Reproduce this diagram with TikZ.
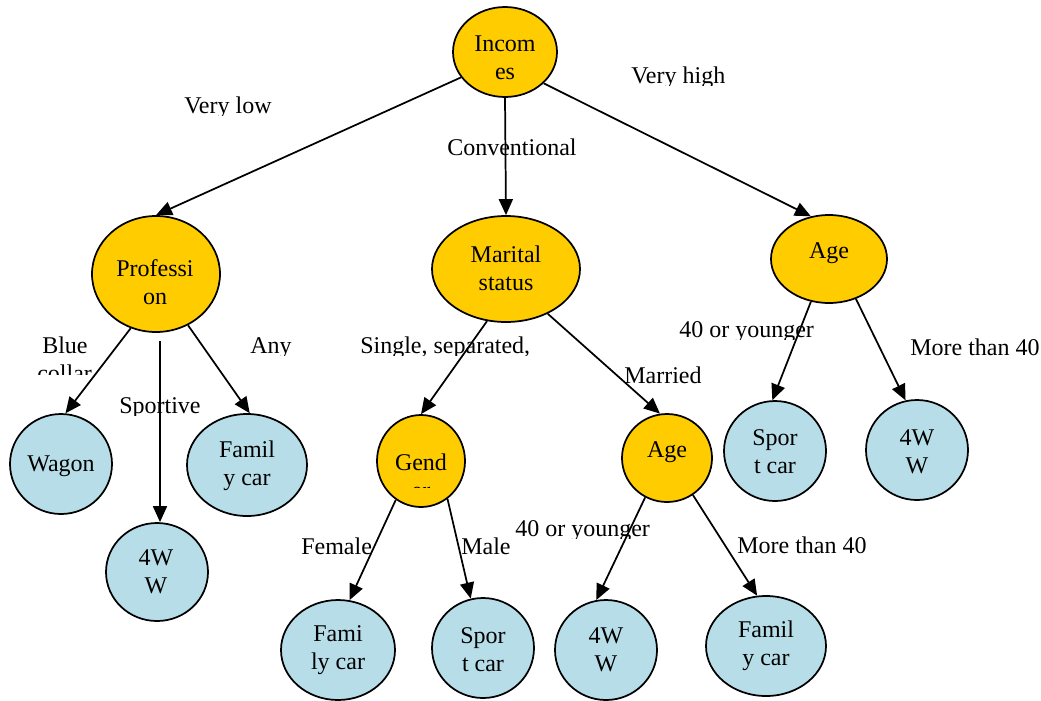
\documentclass[tikz,border=0pt]{standalone}
\usepackage{fontspec}
\setmainfont{Liberation Serif}
\usetikzlibrary{shapes.geometric,arrows.meta}
\definecolor{gold}{HTML}{FFCC00}
\definecolor{leafblue}{HTML}{B7DEE8}
% label whose lower part is cut off at a given height
\newcommand\cliplab[5]{%
  \begin{scope}
    \clip (#2-20,#3-40) rectangle (#2+300,#4);
    \node[lab] (#1) at (#2,#3) {#5};
  \end{scope}}
\begin{document}
\begin{tikzpicture}[x=0.75pt,y=-0.75pt,
  sz/.style 2 args={minimum width=#1*0.75pt,minimum height=#2*0.75pt},
  split/.style={ellipse,draw=black,line width=1.3pt,fill=gold,inner sep=0pt},
  leafnode/.style={ellipse,draw=black,line width=1.3pt,fill=leafblue,inner sep=0pt},
  txt/.style={align=center,inner sep=0pt,font=\fontsize{18}{21}\selectfont},
  lab/.style={anchor=base west,inner sep=0pt,font=\fontsize{18}{21}\selectfont},
  arr/.style={line width=1.3pt,-{Triangle[length=12pt,width=10.5pt]}}]
\fill[white] (0,0) rectangle (1041,700);
\useasboundingbox (0,0) rectangle (1041,700);

% decision nodes
\node[split,sz={104}{90}]  (inc)  at (505,52)  {};
\node[split,sz={128}{116}] (prof) at (156,274) {};
\node[split,sz={148}{106}] (mar)  at (506,269) {};
\node[split,sz={116}{88}]  (ageR) at (829,259) {};
\node[split,sz={88}{92}]   (gend) at (421,461) {};
\node[split,sz={90}{88}]   (ageM) at (667,458) {};

% outcomes
\node[leafnode,sz={102}{100}] (wagon)  at (61,464)  {};
\node[leafnode,sz={102}{98}]  (wwL)    at (157,572) {};
\node[leafnode,sz={120}{102}] (famL)   at (247,465) {};
\node[leafnode,sz={114}{100}] (famB)   at (338,650) {};
\node[leafnode,sz={102}{100}] (sportB) at (483,648) {};
\node[leafnode,sz={102}{100}] (wwB)    at (606,650) {};
\node[leafnode,sz={120}{100}] (famBR)  at (766,646) {};
\node[leafnode,sz={102}{100}] (sportR) at (775,451) {};
\node[leafnode,sz={102}{100}] (wwR)    at (917,450) {};

% node texts
\node[txt] (incT)    at (505,58)  {Incom\\es};
\node[txt] (profT)   at (155,282) {Professi\\on};
\node[txt] (marT)    at (506,268) {Marital\\status};
\node[txt] (ageRT)   at (829,253) {Age};
\node[txt] (ageMT)   at (667,452) {Age};
\begin{scope}
  \clip (380,420) rectangle (465,487);
  \node[txt] (gendT) at (421,476) {Gend\\er};
\end{scope}
\node[txt] (wagonT)  at (61,466)  {Wagon};
\node[txt] (wwLT)    at (156,572) {4W\\W};
\node[txt] (famLT)   at (247,466) {Famil\\y car};
\node[txt] (famBT)   at (338,650) {Fami\\ly car};
\node[txt] (sportBT) at (483,650) {Spor\\t car};
\node[txt] (wwBT)    at (606,650) {4W\\W};
\node[txt] (famBRT)  at (766,646) {Famil\\y car};
\node[txt] (sportRT) at (775,452) {Spor\\t car};
\node[txt] (wwRT)    at (917,452) {4W\\W};

% branch labels
\cliplab{lVlow}{184}{113}{115}{Very low}
\cliplab{lVhigh}{631}{83}{85}{Very high}
\node[lab] (lConv) at (447,155) {Conventional};
\node[lab] (lBlue) at (42,353) {Blue};
\cliplab{lCollar}{37}{381}{374}{collar}
\cliplab{lAny}{250}{353}{355}{Any}
\cliplab{lSport}{119}{413}{415}{Sportive}
\cliplab{lSingle}{360}{353}{355}{Single, separated,}
\node[lab] (lMarried) at (624,383) {Married};
\cliplab{lYoungR}{679}{337}{339}{40 or younger}
\node[lab] (lOldR) at (910,355) {More than 40};
\node[lab] (lFemale) at (301,554) {Female};
\node[lab] (lMale) at (461,554) {Male};
\cliplab{lYoungM}{515}{536}{538}{40 or younger}
\node[lab] (lOldM) at (737,553) {More than 40};

% connectors
\draw[arr] (inc.210) -- (prof.north);
\draw[arr] (inc.south) -- (mar.north);
\draw[arr] (inc.321) -- (ageR.113);
\draw[arr] (prof.245) -- (wagon.85);
\draw[arr] ([shift={(4,8)}]prof.south) -- ([shift={(3,0)}]wwL.north);
\draw[arr] (prof.302) -- (famL.87);
\draw[arr] (mar.250) -- (gend.north);
\draw[arr] (mar.313) -- (ageM.99);
\draw[arr] (ageR.247) -- (sportR.93);
\draw[arr] (ageR.304) -- (wwR.103);
\draw[arr] (gend.237) -- (famB.77);
\draw[arr] (gend.305) -- (sportB.104);
\draw[arr] (ageM.241) -- (wwB.101);
\draw[arr] (ageM.305) -- (famBR.100);
\end{tikzpicture}
\end{document}
